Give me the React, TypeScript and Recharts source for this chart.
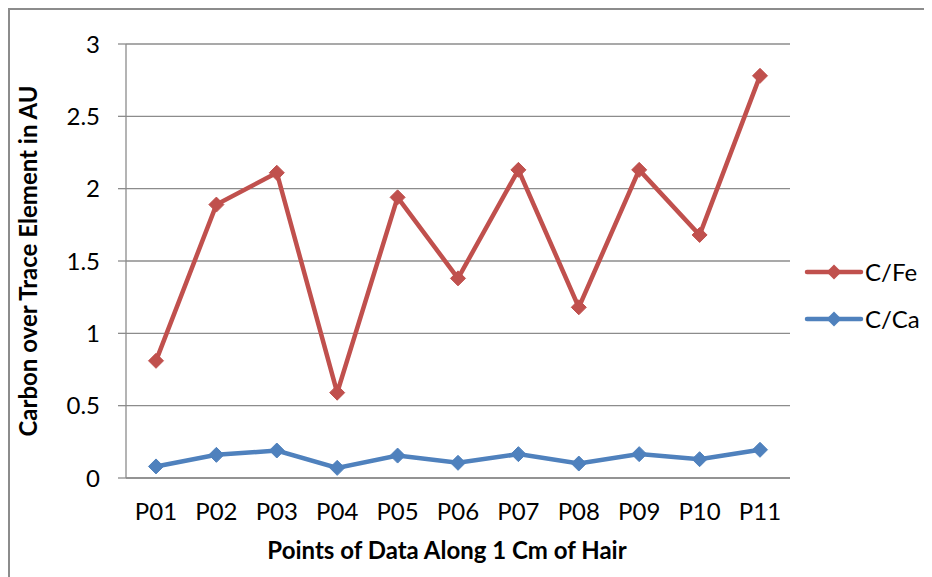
import React from 'react';
import { ComposedChart, Line, XAxis, YAxis, CartesianGrid, Legend, Label } from 'recharts';

const categories = ['P01', 'P02', 'P03', 'P04', 'P05', 'P06', 'P07', 'P08', 'P09', 'P10', 'P11'];
const cFe = [0.81, 1.89, 2.11, 0.59, 1.94, 1.38, 2.13, 1.18, 2.13, 1.68, 2.78];
const cCa = [0.08, 0.16, 0.19, 0.07, 0.155, 0.105, 0.165, 0.1, 0.165, 0.13, 0.195];
const yTicks = [0, 0.5, 1, 1.5, 2, 2.5, 3];
const seriesNames = ['C/Fe', 'C/Ca'];
const colors = ['#C0504D', '#4F81BD'];

const data = categories.map((c, i) => ({ name: c, fe: cFe[i], ca: cCa[i] }));

const FONT = 'Lato, "Noto Sans", sans-serif';
const GRID = '#8c8c8c';

const Diamond = (color: string) => (props: any) => {
  const { cx, cy, index } = props;
  if (cx == null || cy == null) return <g key={index} />;
  const s = 7.5;
  return (
    <path
      key={index}
      d={`M${cx},${cy - s} L${cx + s},${cy} L${cx},${cy + s} L${cx - s},${cy} Z`}
      fill={color}
      stroke={color}
      strokeWidth={1}
    />
  );
};

const LegendContent = () => (
  <svg width={130} height={70} style={{ display: 'block', overflow: 'visible' }}>
    {seriesNames.map((n, i) => {
      const y = 10 + i * 47;
      const c = colors[i];
      return (
        <g key={n}>
          <line x1={1} y1={y} x2={55} y2={y} stroke={c} strokeWidth={4.5} strokeLinecap="round" />
          <path d={`M28,${y - 7.5} L35.5,${y} L28,${y + 7.5} L20.5,${y} Z`} fill={c} />
          <text x={59} y={y} dy="0.36em" fontSize={24} fontFamily={FONT} fill="#000">
            {n}
          </text>
        </g>
      );
    })}
  </svg>
);

export default function App() {
  return (
    <div
      style={{
        width: 922,
        height: 567,
        borderTop: `2px solid ${GRID}`,
        borderLeft: `2px solid ${GRID}`,
        background: '#fff',
      }}
    >
      <ComposedChart
        width={922}
        height={567}
        data={data}
        margin={{ top: 34, right: 142, bottom: 0, left: 30 }}
      >
        <CartesianGrid vertical={false} stroke={GRID} strokeWidth={1.3} />
        <XAxis
          dataKey="name"
          type="category"
          height={99}
          padding={{ left: 30, right: 30 }}
          axisLine={{ stroke: GRID, strokeWidth: 1.3 }}
          tickLine={false}
          tickSize={0}
          tickMargin={25}
          tick={{ fill: '#000', fontSize: 24, fontFamily: FONT }}
          interval={0}
        >
          <Label
            content={() => (
              <text x={437} y={549} textAnchor="middle" fontSize={24} fontWeight="bold" fontFamily={FONT} fill="#000">
                Points of Data Along 1 Cm of Hair
              </text>
            )}
          />
        </XAxis>
        <YAxis
          type="number"
          domain={[0, 3]}
          ticks={yTicks}
          width={86}
          axisLine={{ stroke: GRID, strokeWidth: 1.3 }}
          tickLine={{ stroke: GRID, strokeWidth: 1.3 }}
          tickSize={8}
          tickMargin={18}
          tick={{ fill: '#000', fontSize: 24, fontFamily: FONT }}
          interval={0}
        >
          <Label
            content={() => (
              <text
                x={27}
                y={251}
                transform="rotate(-90, 27, 251)"
                textAnchor="middle"
                fontSize={24}
                fontWeight="bold"
                fontFamily={FONT}
                fill="#000"
              >
                Carbon over Trace Element in AU
              </text>
            )}
          />
        </YAxis>
        <Legend
          layout="vertical"
          verticalAlign="middle"
          align="center"
          content={<LegendContent />}
          wrapperStyle={{ left: 796, top: 252, width: 130, height: 70 }}
        />
        <Line
          type="linear"
          dataKey="ca"
          name={seriesNames[1]}
          stroke={colors[1]}
          strokeWidth={4.5}
          dot={Diamond(colors[1])}
          activeDot={false}
          isAnimationActive={false}
        />
        <Line
          type="linear"
          dataKey="fe"
          name={seriesNames[0]}
          stroke={colors[0]}
          strokeWidth={4.5}
          dot={Diamond(colors[0])}
          activeDot={false}
          isAnimationActive={false}
        />
      </ComposedChart>
    </div>
  );
}
